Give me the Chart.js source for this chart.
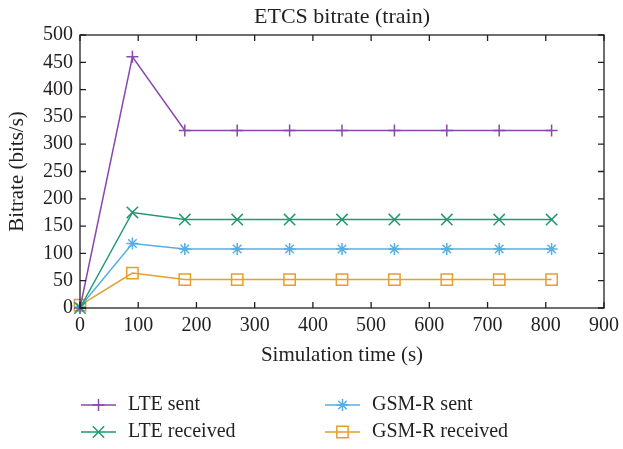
<!DOCTYPE html>
<html>
<head>
<meta charset="utf-8">
<script src="https://cdn.jsdelivr.net/npm/chart.js@4/dist/chart.umd.min.js"></script>
<style>
	html, body { margin: 0; padding: 0; background: #fff; }
	#wrap { width: 623px; height: 449px; }
</style>
</head>
<body>
<div id="wrap"><canvas id="bitrateChart" width="623" height="449"></canvas></div>
<script>
// values
var times = [0, 90, 180, 270, 360, 450, 540, 630, 720, 810];
var lteSent = [0, 460, 325, 325, 325, 325, 325, 325, 325, 325];
var lteReceived = [0, 175, 162, 162, 162, 162, 162, 162, 162, 162];
var gsmSent = [2, 118, 108, 108, 108, 108, 108, 108, 108, 108];
var gsmReceived = [5, 64, 52, 52, 52, 52, 52, 52, 52, 52];

var seriesLabels = ['LTE sent', 'LTE received', 'GSM-R sent', 'GSM-R received'];
var xTicks = [0, 100, 200, 300, 400, 500, 600, 700, 800, 900];
var yTicks = [0, 50, 100, 150, 200, 250, 300, 350, 400, 450, 500];
var chartTitle = 'ETCS bitrate (train)';

var ink = '#231f20';
var serif = '"Liberation Serif", "DejaVu Serif", serif';

function toPoints(ys) {
	return times.map(function(t, i) { return { x: t, y: ys[i] }; });
}

var seriesStyle = [
	{ color: '#8a48ad', point: 'cross', radius: 6 },
	{ color: '#1f9a72', point: 'crossRot', radius: 8 },
	{ color: '#56aee2', point: 'star', radius: 6 },
	{ color: '#e69e2c', point: 'rect', radius: 8 }
];
var seriesData = [lteSent, lteReceived, gsmSent, gsmReceived];

var datasets = seriesData.map(function(ys, i) {
	var s = seriesStyle[i];
	return {
		label: seriesLabels[i],
		data: toPoints(ys),
		borderColor: s.color,
		backgroundColor: 'rgba(0,0,0,0)',
		borderWidth: 1.5,
		pointStyle: s.point,
		pointRadius: s.radius,
		pointBorderWidth: 1.5,
		pointBorderColor: s.color,
		pointBackgroundColor: 'rgba(0,0,0,0)',
		tension: 0,
		clip: false
	};
});

// box frame, inward ticks on all sides, title over the plot, legend below
var framePlugin = {
	id: 'frame',
	afterDraw: function(chart) {
		var ctx = chart.ctx;
		var a = chart.chartArea;
		var xs = chart.scales.x, ys = chart.scales.y;
		var tl = 6;
		ctx.save();
		ctx.strokeStyle = ink;
		ctx.lineWidth = 1.3;
		ctx.strokeRect(a.left, a.top, a.right - a.left, a.bottom - a.top);
		ctx.beginPath();
		xTicks.forEach(function(v) {
			var px = xs.getPixelForValue(v);
			ctx.moveTo(px, a.bottom); ctx.lineTo(px, a.bottom - tl);
			ctx.moveTo(px, a.top); ctx.lineTo(px, a.top + tl);
		});
		yTicks.forEach(function(v) {
			var py = ys.getPixelForValue(v);
			ctx.moveTo(a.left, py); ctx.lineTo(a.left + tl, py);
			ctx.moveTo(a.right, py); ctx.lineTo(a.right - tl, py);
		});
		ctx.stroke();

		// title
		ctx.fillStyle = ink;
		ctx.font = '22px ' + serif;
		ctx.textAlign = 'center';
		ctx.textBaseline = 'middle';
		ctx.fillText(chartTitle, (a.left + a.right) / 2, 17);

		// legend
		var cols = [81, 325];
		var rows = [405, 432];
		ctx.font = '20px ' + serif;
		ctx.textAlign = 'left';
		seriesLabels.forEach(function(lbl, i) {
			var s = seriesStyle[i];
			var x0 = cols[Math.floor(i / 2)];
			var y0 = rows[i % 2];
			ctx.strokeStyle = s.color;
			ctx.fillStyle = 'rgba(0,0,0,0)';
			ctx.lineWidth = 1.5;
			ctx.beginPath();
			ctx.moveTo(x0, y0); ctx.lineTo(x0 + 35, y0);
			ctx.stroke();
			Chart.helpers.drawPoint(ctx, {
				pointStyle: s.point, radius: s.radius, borderWidth: 1.5, rotation: 0
			}, x0 + 17.5, y0);
			ctx.fillStyle = ink;
			ctx.fillText(lbl, x0 + 47, y0);
		});
		ctx.restore();
	}
};

var chart = new Chart(document.getElementById('bitrateChart').getContext('2d'), {
	type: 'line',
	data: { datasets: datasets },
	options: {
		responsive: false,
		animation: false,
		layout: { padding: { left: 0, right: 19, top: 35, bottom: 81 } },
		plugins: {
			legend: { display: false },
			tooltip: { enabled: false },
			title: { display: false }
		},
		scales: {
			x: {
				type: 'linear',
				min: 0,
				max: 900,
				afterBuildTicks: function(scale) {
					scale.ticks = xTicks.map(function(v) { return { value: v }; });
				},
				afterFit: function(scale) {
					scale.height = 60;
					scale.paddingLeft = 0;
					scale.paddingRight = 0;
				},
				grid: { display: false, drawTicks: false },
				border: { display: false },
				ticks: {
					color: ink,
					padding: 6,
					maxRotation: 0,
					autoSkip: false,
					font: { family: serif, size: 20 }
				},
				title: {
					display: true,
					text: 'Simulation time (s)',
					color: ink,
					font: { family: serif, size: 21 },
					padding: { top: 0, bottom: 0 }
				}
			},
			y: {
				min: 0,
				max: 500,
				afterBuildTicks: function(scale) {
					scale.ticks = yTicks.map(function(v) { return { value: v }; });
				},
				afterFit: function(scale) {
					scale.width = 80;
					scale.paddingTop = 0;
					scale.paddingBottom = 0;
				},
				grid: { display: false, drawTicks: false },
				border: { display: false },
				ticks: {
					color: ink,
					padding: 7,
					autoSkip: false,
					font: { family: serif, size: 20 }
				},
				title: {
					display: true,
					text: 'Bitrate (bits/s)',
					color: ink,
					font: { family: serif, size: 21 },
					padding: { top: 5, bottom: 0 }
				}
			}
		}
	},
	plugins: [framePlugin]
});
</script>
</body>
</html>
